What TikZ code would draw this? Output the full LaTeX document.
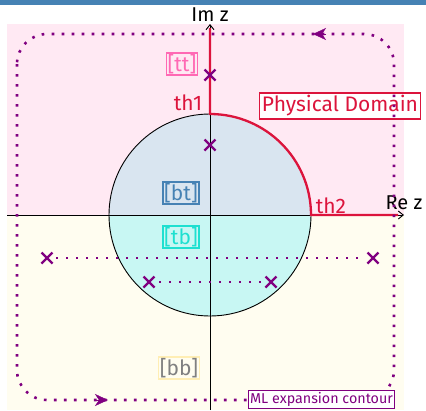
\documentclass[tikz,border=0pt]{standalone}
\usepackage{fontspec}
\setmainfont{Fira Sans}
\usetikzlibrary{arrows.meta}
\definecolor{pinkbg}{RGB}{255,233,243}
\definecolor{creambg}{RGB}{255,253,240}
\definecolor{upcirc}{RGB}{217,229,240}
\definecolor{lowcirc}{RGB}{200,247,243}
\definecolor{crim}{RGB}{220,20,60}
\definecolor{purp}{RGB}{128,0,128}
\definecolor{hotp}{RGB}{255,105,180}
\definecolor{steel}{RGB}{70,130,180}
\definecolor{turq}{RGB}{30,224,208}
\definecolor{bbgray}{RGB}{128,128,128}
\definecolor{bbedge}{RGB}{255,238,180}
\tikzset{
  regionlbl/.style={draw, line width=1.3pt, inner sep=1.2pt, font=\fontsize{21}{21}\selectfont},
  xmark/.style={purp, line width=2.3pt},
  dotline/.style={purp, line width=2.6pt, dash pattern=on 2.6pt off 7.4pt},
  redline/.style={crim, line width=2.3pt},
  axis/.style={black, line width=0.9pt, -{Straight Barb[length=5pt,width=8pt]}},
  contourtip/.style={purp, -{Stealth[length=13pt,width=12pt,inset=4pt]}},
}
\newcommand{\xm}[2]{\draw[xmark] (#1-5.5,#2-5.5) -- (#1+5.5,#2+5.5) (#1-5.5,#2+5.5) -- (#1+5.5,#2-5.5);}
\begin{document}
\begin{tikzpicture}[x=1pt,y=-1pt]
\useasboundingbox (0,0) rectangle (426,410);
\fill[white] (0,0) rectangle (426,410);
\fill[steel] (0,0) rectangle (426,5);
\fill[pinkbg] (7,24) rectangle (404,215);
\fill[creambg] (7,215) rectangle (404,410);
% circle
\fill[upcirc] (109,215) arc[start angle=180, end angle=360, radius=101] -- cycle;
\fill[lowcirc] (109,215) arc[start angle=180, end angle=0, radius=101] -- cycle;
\draw[black, line width=0.9pt] (210,215) circle[radius=101];
% axes
\coordinate (xs) at (7,215);
\coordinate (xe) at (404,215);
\coordinate (ys) at (210,410);
\coordinate (ye) at (210,24);
\draw[axis] (xs) -- (xe);
\draw[axis] (ys) -- (ye);
\node[font=\fontsize{20}{20}\selectfont, inner sep=0pt] (imz) at (210,15) {Im z};
\node[font=\fontsize{20}{20}\selectfont, inner sep=0pt] (rez) at (404,203) {Re z};
% physical domain
\draw[redline] (210,28) -- (210,114) arc[start angle=-90, end angle=0, radius=101] -- (398,215);
\node[font=\fontsize{21}{21}\selectfont, text=crim, inner sep=0pt] (th1) at (188,103) {th1};
\node[font=\fontsize{21}{21}\selectfont, text=crim, inner sep=0pt] (th2) at (331,206) {th2};
\node[draw=crim, fill=white, line width=1.2pt, text=crim, inner sep=2.5pt, font=\fontsize{21}{21}\selectfont] (pd) at (340,106) {Physical Domain};
% contour
\draw[dotline, rounded corners=30pt] (17,34) rectangle (394,400);
\draw[contourtip] (326,34) -- (313,34);
\draw[contourtip] (95,400) -- (108,400);
\node[draw=purp, fill=white, line width=1pt, text=purp, inner sep=1.5pt, font=\fontsize{14.3}{15}\selectfont] (ml) at (321.5,399.5) {ML expansion contour};
% dotted pole lines
\draw[purp, line width=2.4pt, dash pattern=on 2.4pt off 7.6pt] (56,258) -- (364,258);
\draw[purp, line width=2.4pt, dash pattern=on 2.4pt off 7.6pt] (159,282) -- (262,282);
% crosses
\xm{210}{75}
\xm{210}{145}
\xm{47}{258}
\xm{373}{258}
\xm{149}{282}
\xm{271}{282}
% region labels
\node[regionlbl, draw=hotp, text=hotp] (tt) at (182,64) {[tt]};
\node[regionlbl, draw=steel, text=steel] (bt) at (181,193) {[bt]};
\node[regionlbl, draw=turq, text=turq] (tb) at (181,237) {[tb]};
\node[regionlbl, draw=bbedge, text=bbgray] (bb) at (179,368) {[bb]};
\end{tikzpicture}
\end{document}
